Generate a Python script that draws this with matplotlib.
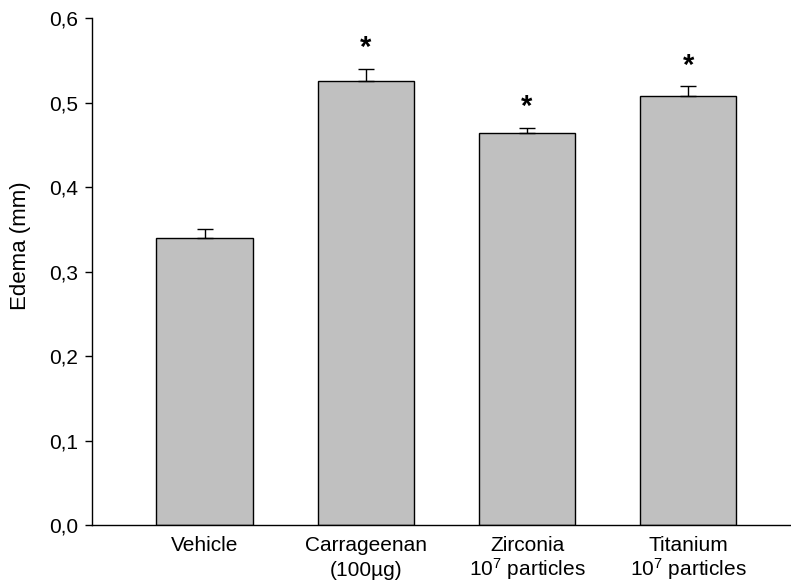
# Edema por tratamiento - barras con error estándar
import matplotlib
matplotlib.use("Agg")
import matplotlib.pyplot as plt

plt.rcParams['font.family'] = ['Liberation Sans', 'DejaVu Sans']
plt.rcParams['mathtext.fontset'] = 'custom'
plt.rcParams['mathtext.rm'] = 'Liberation Sans'
plt.rcParams['mathtext.it'] = 'Liberation Sans:italic'

# datos
grupos = ['Vehicle', 'Carrageenan\n(100µg)', 'Zirconia\n10$^7$ particles', 'Titanium\n10$^7$ particles']
edema = [0.340, 0.525, 0.464, 0.508]
error = [0.010, 0.015, 0.006, 0.011]
signif = [False, True, True, True]
yticks = [0.0, 0.1, 0.2, 0.3, 0.4, 0.5, 0.6]
yticklabels = ['0,0', '0,1', '0,2', '0,3', '0,4', '0,5', '0,6']

fig = plt.figure(figsize=(7.91, 5.87), dpi=100)
ax = fig.add_axes([0.1163, 0.1056, 0.882, 0.8637])

x = list(range(len(grupos)))
ax.bar(x, edema, width=0.6, color='#c0c0c0', edgecolor='black', linewidth=1.0,
       yerr=[[0] * len(error), error], capsize=5.5,
       error_kw={'elinewidth': 1.0, 'capthick': 1.0, 'ecolor': 'black'}, zorder=2)

# asteriscos sobre las barras significativas
for xi, v, e, s in zip(x, edema, error, signif):
    if s:
        ax.annotate('*', xy=(xi, v + e), xytext=(0, 9), textcoords='offset points',
                    ha='center', va='baseline', fontsize=21, fontweight='bold')

ax.set_xlim(-0.70, 3.63)
ax.set_ylim(0, 0.6)
ax.set_xticks(x)
ax.set_xticklabels(grupos, fontsize=15)
for lbl in ax.get_xticklabels():
    # las etiquetas con superíndice ya son más altas
    lbl.set_linespacing(1.05 if '$' in lbl.get_text() else 1.4)
ax.set_yticks(yticks)
ax.set_yticklabels(yticklabels, fontsize=15)
ax.tick_params(axis='x', length=0, pad=8)
ax.tick_params(axis='y', direction='out', length=5, width=1.0, pad=5)

ax.spines['top'].set_visible(False)
ax.spines['right'].set_visible(False)
ax.spines['left'].set_linewidth(1.0)
ax.spines['bottom'].set_linewidth(1.0)

ax.set_ylabel('Edema (mm)', fontsize=16)
ax.yaxis.set_label_coords(-0.088, 0.55)

plt.savefig('out.png', dpi=100)
